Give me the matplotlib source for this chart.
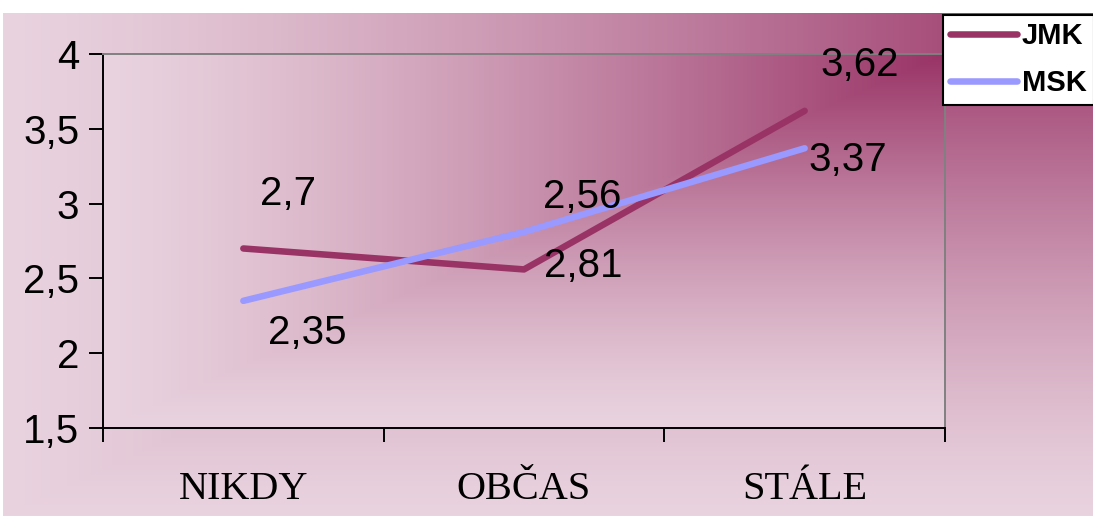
import numpy as np
import matplotlib.pyplot as plt

# data
categories = ['NIKDY', 'OBČAS', 'STÁLE']
jmk = [2.7, 2.56, 3.62]
msk = [2.35, 2.81, 3.37]
series_names = ['JMK', 'MSK']
y_ticks = [1.5, 2, 2.5, 3, 3.5, 4]

# label offsets in pixels (dx, dy) from each point
jmk_offsets = [(45, 54), (58, 72), (55, 46)]
msk_offsets = [(64, -32), (59, -34), (43, -12)]

W, H = 1093, 516
light = np.array([233, 211, 223]) / 255
dark = np.array([153, 51, 102]) / 255


def corner_gradient(w, h, gamma=1.3):
    yy, xx = np.mgrid[0:h, 0:w]
    dx = (w - 1 - xx) / (w - 1)
    dy = yy / (h - 1)
    t = np.clip(1 - np.maximum(dx, dy), 0, 1) ** gamma
    return light + (dark - light) * t[..., None]


fig = plt.figure(figsize=(W / 100, H / 100), dpi=100)
fig.patch.set_facecolor('white')

# chart area background
bg = fig.add_axes([3 / W, 0, 1 - 3 / W, (H - 13) / H], zorder=0)
bg.imshow(corner_gradient(W - 3, H - 13), aspect='auto', interpolation='bilinear')
bg.axis('off')

# plot area
px0, px1, py0, py1 = 103, 945, 54, 428
rect = [px0 / W, 1 - py1 / H, (px1 - px0) / W, (py1 - py0) / H]
pbg = fig.add_axes(rect, zorder=1)
pbg.imshow(corner_gradient(px1 - px0, py1 - py0), aspect='auto', interpolation='bilinear')
pbg.axis('off')

ax = fig.add_axes(rect, zorder=2)
ax.set_facecolor('none')
x = np.arange(len(categories))
ax.plot(x, jmk, color='#993366', lw=4.7, solid_capstyle='round', label=series_names[0])
ax.plot(x, msk, color='#9999ff', lw=4.7, solid_capstyle='round', label=series_names[1])
ax.set_xlim(-0.5, len(categories) - 0.5)
ax.set_ylim(1.5, 4)

ax.set_yticks(y_ticks)
ax.set_yticklabels([f'{v:g}'.replace('.', ',') for v in y_ticks])
ax.set_xticks(np.arange(-0.5, len(categories)), labels=[])
ax.set_xticks(x, labels=categories, minor=True)
ax.tick_params(axis='both', which='major', direction='out', length=10, width=1.4, color='black')
ax.tick_params(axis='y', labelsize=29, pad=7)
ax.tick_params(axis='x', which='minor', length=0, pad=31, labelsize=29)
for lab in ax.get_xticklabels(minor=True):
    lab.set_family('Liberation Serif')
for lab in ax.get_yticklabels():
    lab.set_family('Liberation Sans')

for s in ['left', 'bottom']:
    ax.spines[s].set_color('black')
    ax.spines[s].set_linewidth(1.4)
for s in ['top', 'right']:
    ax.spines[s].set_color('#808080')
    ax.spines[s].set_linewidth(1.4)

# value labels
for vals, offs in [(jmk, jmk_offsets), (msk, msk_offsets)]:
    for xi, v, (dx, dy) in zip(x, vals, offs):
        ax.annotate(f'{v:g}'.replace('.', ','), (xi, v), xytext=(dx, dy),
                    textcoords='offset pixels', ha='center', va='center',
                    fontsize=29, family='Liberation Sans', annotation_clip=False)

leg = ax.legend(loc='upper left', bbox_to_anchor=(943 / W, 1 - 15 / H),
                bbox_transform=fig.transFigure, frameon=True, fancybox=False,
                framealpha=1, facecolor='white', edgecolor='black',
                prop={'family': 'Liberation Sans', 'weight': 'bold', 'size': 21},
                handlelength=2.3, handletextpad=0.15, borderpad=0.25,
                labelspacing=0.65, borderaxespad=0)
leg.get_frame().set_linewidth(1.5)
leg.set_zorder(5)

fig.savefig('out.png', dpi=100)
